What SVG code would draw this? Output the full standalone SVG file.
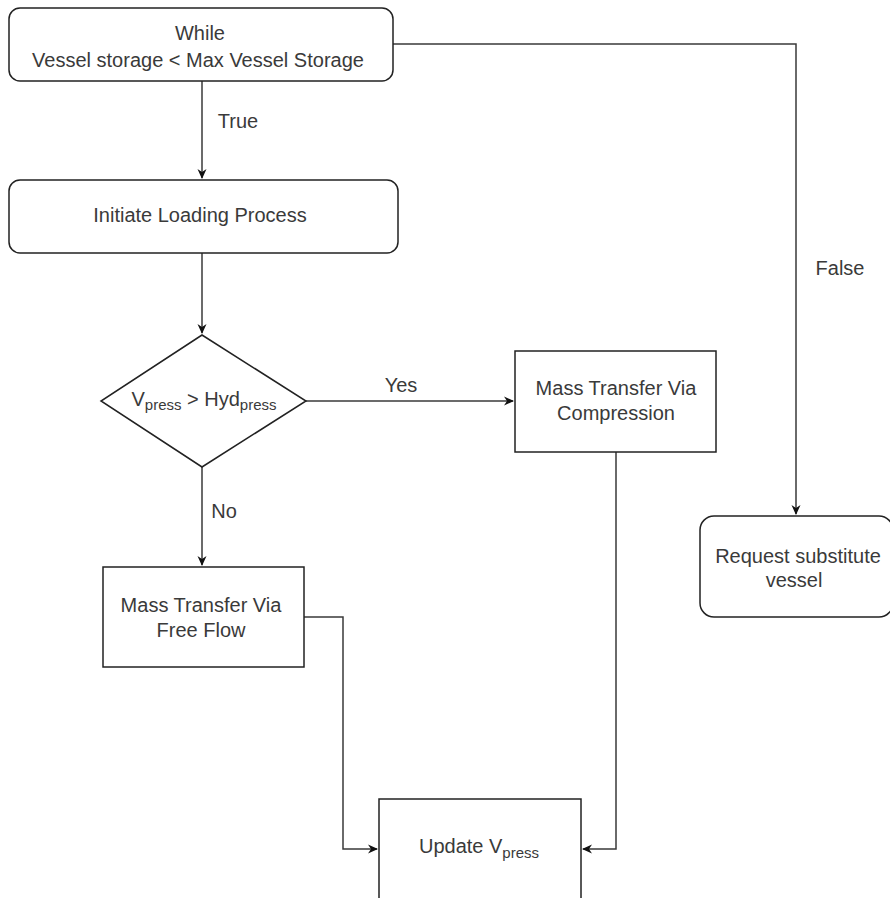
<svg xmlns="http://www.w3.org/2000/svg" width="890" height="898" viewBox="0 0 890 898">
<defs>
<marker id="ah" markerWidth="10" markerHeight="10" refX="9" refY="5" orient="auto" markerUnits="userSpaceOnUse">
<path d="M0,0.5 L10,5 L0,9.5 L3,5 Z" fill="#111"/>
</marker>
<style>
.n{fill:#fff;stroke:#222;stroke-width:1.5}
.t{font-family:"Liberation Sans",Arial,sans-serif;font-size:20px;fill:#3a3a3a;text-anchor:middle}
.c{fill:none;stroke:#3a3a3a;stroke-width:1.5}
.s{font-size:15px}
</style>
</defs>
<rect width="890" height="898" fill="#fff"/>
<g id="connectors">
<path class="c" d="M202,81 V178" marker-end="url(#ah)"/>
<text class="t" x="238" y="128">True</text>
<path class="c" d="M202,253 V333" marker-end="url(#ah)"/>
<path class="c" d="M306,401 H513" marker-end="url(#ah)"/>
<text class="t" x="401" y="392">Yes</text>
<path class="c" d="M202,467 V565" marker-end="url(#ah)"/>
<text class="t" x="224" y="518">No</text>
<path class="c" d="M304,617 H343 V849 H377" marker-end="url(#ah)"/>
<path class="c" d="M616,452 V849 H583" marker-end="url(#ah)"/>
<path class="c" d="M393,44 H796 V514" marker-end="url(#ah)"/>
<text class="t" x="840" y="275">False</text>
</g>
<g id="while">
<rect class="n" x="9" y="8" width="384" height="73" rx="11"/>
<text class="t" x="200" y="40">While</text>
<text class="t" x="198" y="67">Vessel storage &lt; Max Vessel Storage</text>
</g>
<g id="initiate">
<rect class="n" x="9" y="180" width="389" height="73" rx="11"/>
<text class="t" x="200" y="222">Initiate Loading Process</text>
</g>
<g id="decision">
<polygon class="n" points="202,335 306,401 202,467 101,401"/>
<text class="t" x="204" y="406">V<tspan class="s" dy="4">press</tspan><tspan dy="-4"> &gt; Hyd</tspan><tspan class="s" dy="4">press</tspan></text>
</g>
<g id="compression">
<rect class="n" x="515" y="351" width="201" height="101"/>
<text class="t" x="616" y="395">Mass Transfer Via</text>
<text class="t" x="616" y="420">Compression</text>
</g>
<g id="freeflow">
<rect class="n" x="103" y="567" width="201" height="100"/>
<text class="t" x="201" y="612">Mass Transfer Via</text>
<text class="t" x="201" y="637">Free Flow</text>
</g>
<g id="request">
<rect class="n" x="700" y="516" width="193" height="101" rx="14"/>
<text class="t" x="798" y="563">Request substitute</text>
<text class="t" x="794" y="587">vessel</text>
</g>
<g id="update">
<rect class="n" x="379" y="799" width="202" height="110"/>
<text class="t" x="479" y="853">Update V<tspan class="s" dy="5">press</tspan></text>
</g>
</svg>
